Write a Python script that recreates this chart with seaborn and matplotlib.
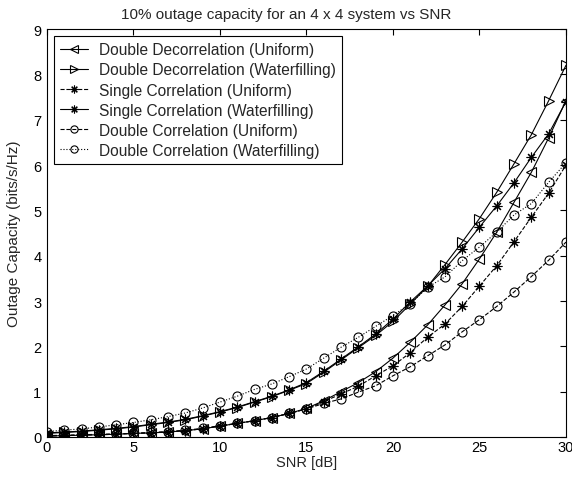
import numpy as np
import pandas as pd
import matplotlib
matplotlib.use("Agg")
import matplotlib.pyplot as plt
import seaborn as sns

snr = list(range(0, 31))

dd_uniform = [0.02, 0.03, 0.04, 0.05, 0.06, 0.08, 0.09, 0.11, 0.14, 0.18,
              0.24, 0.30, 0.36, 0.43, 0.52, 0.63, 0.80, 1.00, 1.20, 1.44,
              1.74, 2.09, 2.47, 2.91, 3.38, 3.93, 4.52, 5.18, 5.84, 6.60, 7.42]
dd_water = [0.08, 0.10, 0.12, 0.15, 0.18, 0.22, 0.27, 0.32, 0.38, 0.46,
            0.55, 0.65, 0.77, 0.89, 1.03, 1.18, 1.43, 1.70, 1.97, 2.24,
            2.55, 2.93, 3.32, 3.80, 4.30, 4.82, 5.40, 6.03, 6.67, 7.42, 8.20]
sc_uniform = [0.02, 0.03, 0.04, 0.05, 0.06, 0.08, 0.09, 0.11, 0.14, 0.18,
              0.24, 0.30, 0.36, 0.43, 0.52, 0.62, 0.78, 0.95, 1.12, 1.35,
              1.57, 1.86, 2.20, 2.49, 2.88, 3.33, 3.78, 4.31, 4.85, 5.38, 6.00]
sc_water = [0.09, 0.11, 0.13, 0.16, 0.19, 0.23, 0.28, 0.33, 0.39, 0.47,
            0.56, 0.66, 0.78, 0.90, 1.04, 1.20, 1.45, 1.72, 1.99, 2.27,
            2.60, 2.98, 3.33, 3.71, 4.15, 4.63, 5.10, 5.61, 6.17, 6.69, 7.40]
dc_uniform = [0.03, 0.04, 0.05, 0.06, 0.07, 0.08, 0.10, 0.12, 0.15, 0.19,
              0.25, 0.30, 0.36, 0.43, 0.52, 0.62, 0.74, 0.84, 0.99, 1.13,
              1.35, 1.55, 1.79, 2.03, 2.32, 2.59, 2.88, 3.20, 3.54, 3.90, 4.30]
dc_water = [0.12, 0.15, 0.18, 0.22, 0.27, 0.32, 0.38, 0.45, 0.53, 0.64,
            0.77, 0.90, 1.05, 1.17, 1.33, 1.50, 1.74, 1.98, 2.20, 2.44,
            2.68, 2.94, 3.30, 3.53, 3.89, 4.19, 4.52, 4.90, 5.15, 5.62, 6.05]

labels = ["Double Decorrelation (Uniform)",
          "Double Decorrelation (Waterfilling)",
          "Single Correlation (Uniform)",
          "Single Correlation (Waterfilling)",
          "Double Correlation (Uniform)",
          "Double Correlation (Waterfilling)"]
series = [dd_uniform, dd_water, sc_uniform, sc_water, dc_uniform, dc_water]

x_ticks = [0, 5, 10, 15, 20, 25, 30]
y_ticks = [0, 1, 2, 3, 4, 5, 6, 7, 8, 9]

sns.set_theme(style="white")
plt.rcParams['font.family'] = ['Liberation Sans', 'DejaVu Sans']

fig = plt.figure(figsize=(5.72, 4.81), dpi=100)
ax = fig.add_axes([0.082, 0.0894, 0.9075, 0.8482])

styles = [
    dict(marker='<', linestyle='-', markersize=7),
    dict(marker='>', linestyle='-', markersize=7),
    dict(marker=(8, 2, 0), linestyle='--', markersize=7),
    dict(marker=(8, 2, 0), linestyle='-', markersize=7),
    dict(marker='o', linestyle='--', markersize=6.5),
    dict(marker='o', linestyle=':', markersize=6.5),
]

for lab, vals, st in zip(labels, series, styles):
    df = pd.DataFrame({"snr": snr, "cap": vals})
    sns.lineplot(data=df, x="snr", y="cap", ax=ax, label=lab, color="black",
                 marker=st['marker'], linestyle=st['linestyle'],
                 markersize=st['markersize'], markerfacecolor='none',
                 markeredgecolor='black', markeredgewidth=0.8, linewidth=0.8)

ax.set_xlim(0, 30)
ax.set_ylim(0, 9)
ax.set_xticks(x_ticks)
ax.set_yticks(y_ticks)
ax.tick_params(direction='in', top=True, right=True, length=4, width=0.8,
               labelsize=10.5, colors='black')
ax.tick_params(axis='x', pad=2)
ax.tick_params(axis='y', pad=4)
for s in ax.spines.values():
    s.set_visible(True)
    s.set_color('black')
    s.set_linewidth(0.8)

ax.set_title("10% outage capacity for an 4 x 4 system vs SNR", fontsize=11,
             pad=8, x=0.461)
ax.set_xlabel("SNR [dB]", fontsize=10.5, labelpad=1)
ax.set_ylabel("Outage Capacity (bits/s/Hz)", fontsize=11, labelpad=9)

leg = ax.legend(loc='upper left', fontsize=11.2, frameon=True, fancybox=False,
                edgecolor='black', framealpha=1, handlelength=1.8,
                labelspacing=0.33, borderpad=0.4, handletextpad=0.7,
                borderaxespad=0.45, markerscale=0.8)
leg.get_frame().set_linewidth(0.8)

fig.savefig("out.png", dpi=100)
